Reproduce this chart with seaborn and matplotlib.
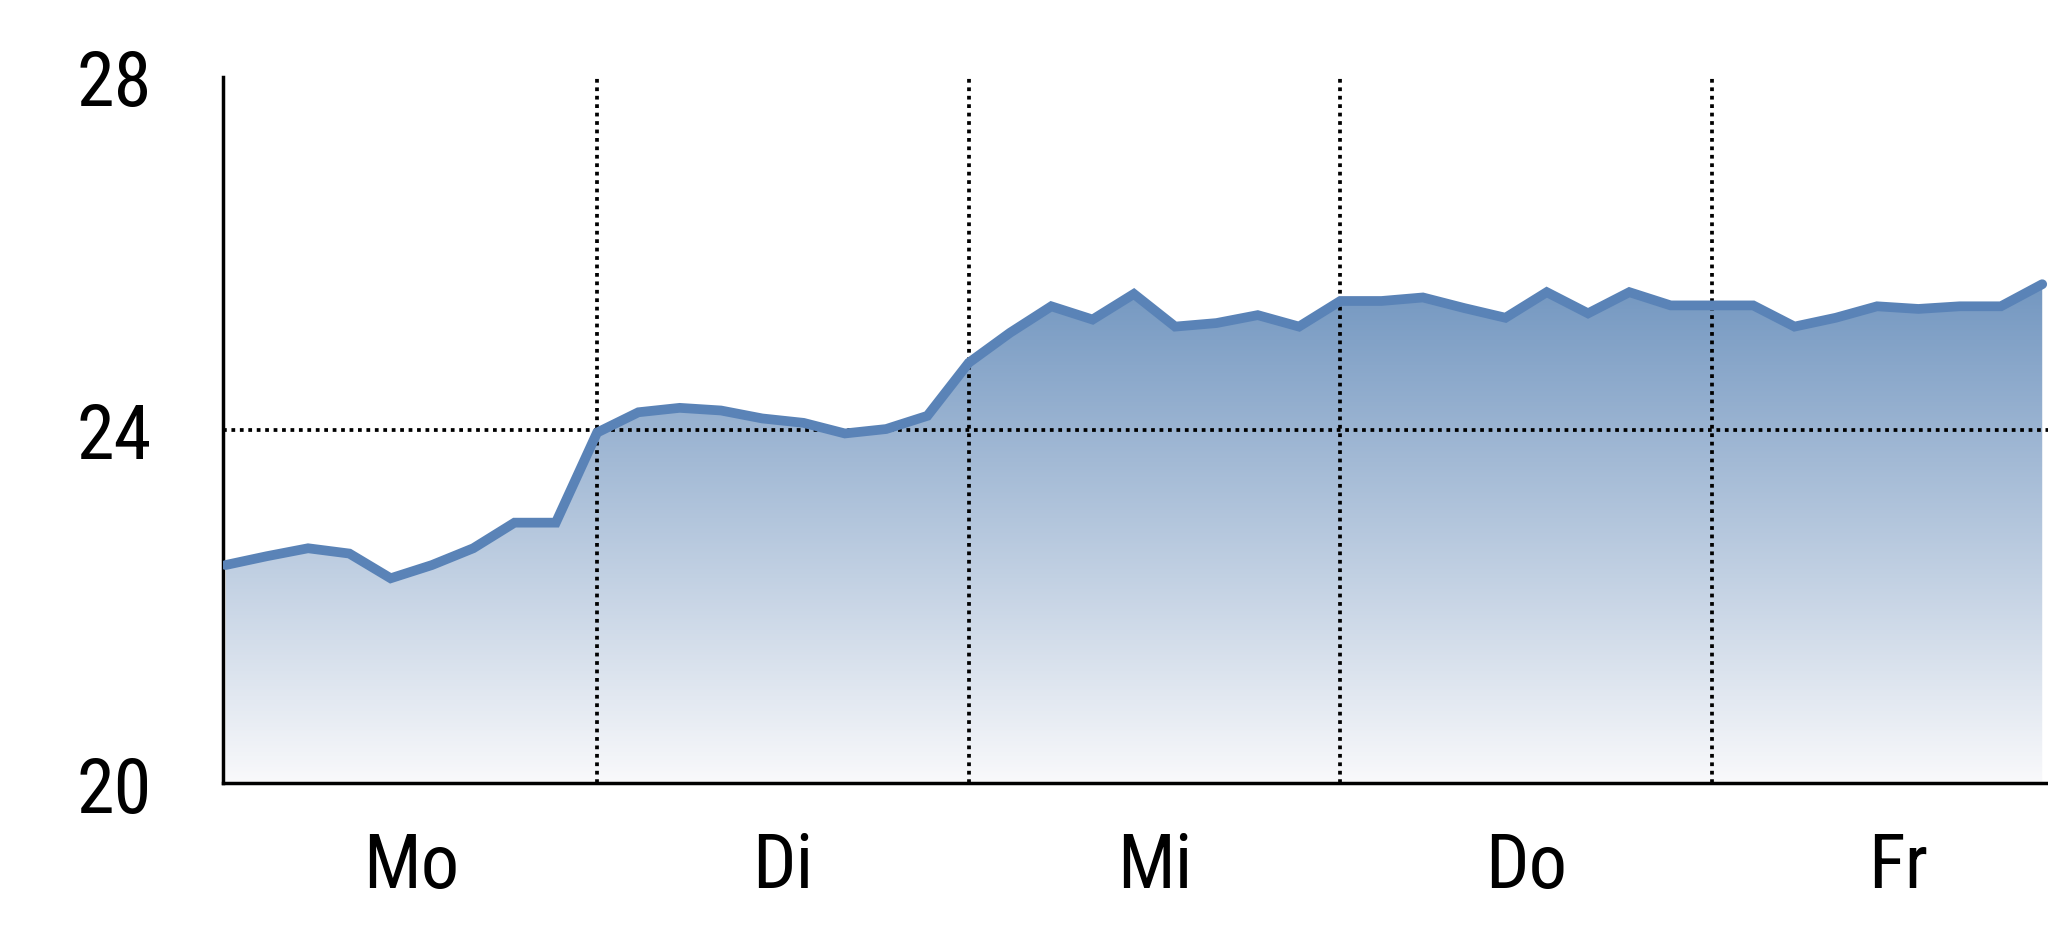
import numpy as np
import pandas as pd
import matplotlib
matplotlib.use("Agg")
import matplotlib.pyplot as plt
import seaborn as sns
from matplotlib.colors import LinearSegmentedColormap

# ---- data ----
days = ["Mo", "Di", "Mi", "Do", "Fr"]
day_centers = [4.5, 13.5, 22.5, 31.5, 40.5]
day_bounds = [9, 18, 27, 36]
y_ticks = [20, 24, 28]
y_labels = ["20", "24", "28"]
ref_level = 24
values = [22.47, 22.57, 22.66, 22.60, 22.32, 22.47, 22.66, 22.95, 22.95,
          23.97, 24.20, 24.25, 24.22, 24.13, 24.08, 23.96, 24.01, 24.16,
          24.76, 25.10, 25.40, 25.25, 25.54, 25.17, 25.21, 25.30, 25.17,
          25.46, 25.46, 25.50, 25.38, 25.27, 25.56, 25.32, 25.56, 25.41,
          25.41, 25.41, 25.17, 25.27, 25.40, 25.37, 25.40, 25.40, 25.65]
steps = list(range(len(values)))

sns.set_theme(style="white")
plt.rcParams['font.family'] = ['Roboto Condensed', 'Archivo Narrow', 'Liberation Sans', 'DejaVu Sans']

fig = plt.figure(figsize=(20.48, 9.37), dpi=100)
ax = fig.add_axes([0.1089, 0.1631, 0.8911, 0.754])

df = pd.DataFrame({"step": steps, "temp": values})

line_color = "#5a83b7"
cmap = LinearSegmentedColormap.from_list("grad", ["#f9f9fb", "#6b91bd"])

poly = ax.fill_between(df["step"], df["temp"], 20, color="none", lw=0)
grad = np.linspace(0, 1, 512).reshape(-1, 1)
im = ax.imshow(grad, extent=[0, len(values) - 1, 20, 26], origin="lower",
               cmap=cmap, aspect="auto", zorder=1, interpolation="bilinear")
im.set_clip_path(poly.get_paths()[0], transform=ax.transData)

dot_style = (0, (1.0, 1.25))
for b in day_bounds:
    ax.axvline(b, color="black", ls=dot_style, lw=2.7, zorder=2.5)
ax.axhline(ref_level, color="black", ls=dot_style, lw=2.7, zorder=2.5)

sns.lineplot(data=df, x="step", y="temp", color=line_color, lw=7, ax=ax,
             zorder=3, solid_capstyle="round", solid_joinstyle="miter")

ax.set_xlim(-0.06, 44.14)
ax.set_ylim(20, 28)
ax.set_xlabel("")
ax.set_ylabel("")
ax.set_xticks(day_centers, days)
ax.set_yticks(y_ticks, y_labels)
ax.tick_params(axis="both", length=0, labelsize=55, colors="black")
ax.tick_params(axis="y", pad=51)
ax.tick_params(axis="x", pad=34)

for s in ["top", "right"]:
    ax.spines[s].set_visible(False)
for s in ["left", "bottom"]:
    ax.spines[s].set_color("black")
    ax.spines[s].set_linewidth(2.5)

fig.savefig("out.png", dpi=100, facecolor="white")
